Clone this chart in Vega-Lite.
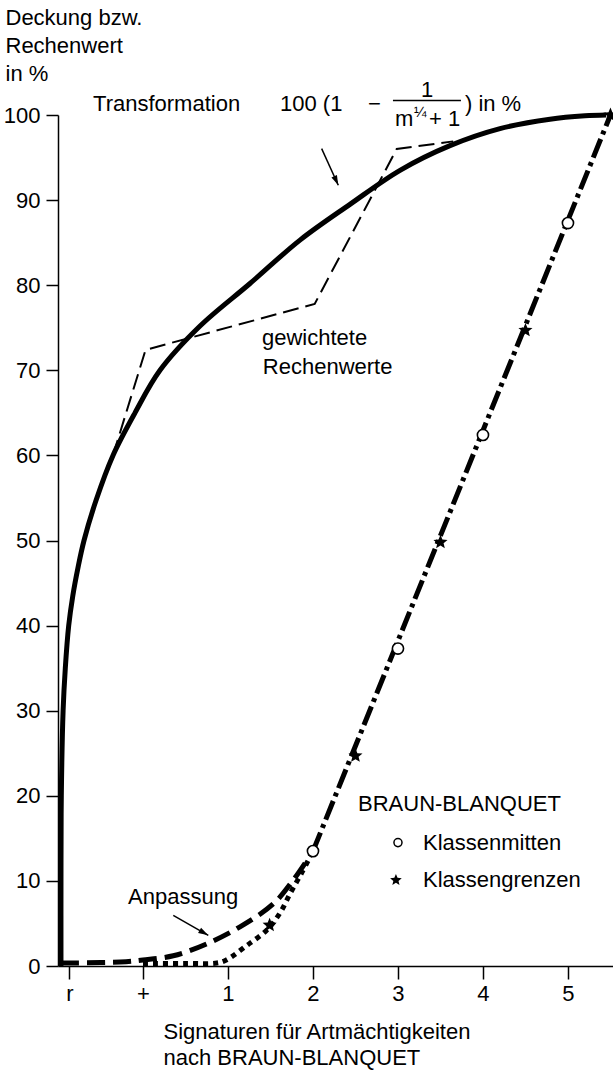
{
  "$schema": "https://vega.github.io/schema/vega-lite/v6.json",
  "width": 555,
  "height": 851,
  "autosize": {"type": "none"},
  "padding": {"left": 58, "top": 115, "right": 0, "bottom": 109},
  "background": "white",
  "config": {
    "view": {"stroke": null},
    "font": "Liberation Sans",
    "axis": {
      "grid": false,
      "domainColor": "black",
      "domainWidth": 1.5,
      "tickColor": "black",
      "tickWidth": 1.5,
      "labelColor": "black",
      "labelFont": "Liberation Sans",
      "labelFontSize": 22,
      "titleFont": "Liberation Sans",
      "titleFontSize": 22,
      "titleFontWeight": "normal",
      "titleColor": "black"
    }
  },
  "datasets": {
    "transform": [
      {"u": -0.965, "v": 0}, {"u": -0.965, "v": 10}, {"u": -0.961, "v": 20}, {"u": -0.94, "v": 30},
      {"u": -0.914, "v": 35}, {"u": -0.874, "v": 40}, {"u": -0.826, "v": 43.5}, {"u": -0.765, "v": 46.8},
      {"u": -0.694, "v": 50}, {"u": -0.553, "v": 54.7}, {"u": -0.353, "v": 60}, {"u": -0.094, "v": 65},
      {"u": 0.2, "v": 70}, {"u": 0.671, "v": 75.2}, {"u": 1.259, "v": 80.2}, {"u": 1.847, "v": 85.3},
      {"u": 2.435, "v": 89.5}, {"u": 3.024, "v": 93.5}, {"u": 3.612, "v": 96.4}, {"u": 4.2, "v": 98.4},
      {"u": 4.788, "v": 99.5}, {"u": 5.2, "v": 99.9}, {"u": 5.45, "v": 100}
    ],
    "weighted": [
      {"u": -0.353, "v": 60}, {"u": 0.03, "v": 72.4}, {"u": 2.02, "v": 77.8}, {"u": 2.985, "v": 96.0}, {"u": 3.65, "v": 96.9}
    ],
    "anpassung": [
      {"u": -0.965, "v": 0.35}, {"u": -0.5, "v": 0.4}, {"u": -0.2, "v": 0.5}, {"u": 0.0, "v": 0.7},
      {"u": 0.356, "v": 1.2}, {"u": 0.749, "v": 2.6}, {"u": 1.141, "v": 4.6}, {"u": 1.533, "v": 7.3},
      {"u": 1.768, "v": 10.1}, {"u": 2.0, "v": 13.5}
    ],
    "dotted": [
      {"u": 0.0, "v": 0.3}, {"u": 0.5, "v": 0.3}, {"u": 0.87, "v": 0.35}, {"u": 0.98, "v": 0.7},
      {"u": 1.22, "v": 2.4}, {"u": 1.455, "v": 4.2}, {"u": 1.61, "v": 6.2}, {"u": 1.73, "v": 8.5},
      {"u": 1.87, "v": 11.0}, {"u": 2.0, "v": 13.5}
    ],
    "bb": [{"u": 2.0, "v": 13.5}, {"u": 5.5, "v": 100}],
    "mitten": [{"u": 2, "v": 13.5}, {"u": 3, "v": 37.3}, {"u": 4, "v": 62.4}, {"u": 5, "v": 87.3}],
    "grenzen": [{"u": 1.49, "v": 4.8}, {"u": 2.5, "v": 24.7}, {"u": 3.5, "v": 49.8}, {"u": 4.5, "v": 74.7}, {"u": 5.5, "v": 100}],
    "legendCircle": [{"u": 3.0, "v": 14.5}],
    "legendStar": [{"u": 2.976, "v": 10.1}],
    "labels": [
      {"text": "Transformation", "u": -0.588, "v": 101.26},
      {"text": "100 (1", "u": 1.612, "v": 101.26},
      {"text": "−", "u": 2.647, "v": 101.26},
      {"text": "1", "u": 3.271, "v": 102.9},
      {"text": "m", "u": 2.965, "v": 99.5},
      {"text": "+ 1", "u": 3.365, "v": 99.5},
      {"text": ") in %", "u": 3.788, "v": 101.26},
      {"text": "gewichtete", "u": 1.4, "v": 73.8},
      {"text": "Rechenwerte", "u": 1.41, "v": 70.4},
      {"text": "BRAUN-BLANQUET", "u": 2.53, "v": 19.0},
      {"text": "Klassenmitten", "u": 3.294, "v": 14.5},
      {"text": "Klassengrenzen", "u": 3.294, "v": 10.1},
      {"text": "Anpassung", "u": -0.176, "v": 8.07}
    ],
    "sup": [{"text": "¼", "u": 3.188, "v": 100.3}],
    "bar": [{"u": 2.941, "u2": 3.741, "v": 101.7}],
    "arrow1": [{"u": 2.102, "v": 96.05, "u2": 2.298, "v2": 91.74}],
    "arrow2": [{"u": 0.356, "v": 5.96, "u2": 0.768, "v2": 3.61}]
  },
  "encoding": {
    "x": {
      "field": "u", "type": "quantitative",
      "scale": {"domain": [-1, 5.53], "nice": false, "zero": false},
      "axis": {
        "values": [-0.867, 0, 1, 2, 3, 4, 5],
        "labelExpr": "datum.value < -0.5 ? 'r' : (datum.value < 0.5 ? '+' : format(datum.value, 'd'))",
        "tickSize": 13,
        "labelPadding": 4,
        "title": ["Signaturen für Artmächtigkeiten", "nach BRAUN-BLANQUET"],
        "titleAlign": "left",
        "titleBaseline": "top",
        "titleAnchor": "start",
        "titleX": 105,
        "titleY": 55,
        "titleLineHeight": 26
      }
    },
    "y": {
      "field": "v", "type": "quantitative",
      "scale": {"domain": [0, 100], "nice": false, "zero": false},
      "axis": {
        "values": [0, 10, 20, 30, 40, 50, 60, 70, 80, 90, 100],
        "tickSize": 12,
        "labelPadding": 6,
        "title": ["Deckung bzw.", "Rechenwert", "in %"],
        "titleAngle": 0,
        "titleAlign": "left",
        "titleBaseline": "top",
        "titleX": -53,
        "titleY": -108,
        "titleLineHeight": 28
      }
    }
  },
  "layer": [
    {
      "data": {"name": "weighted"},
      "mark": {"type": "line", "color": "black", "strokeWidth": 2, "strokeDash": [16, 7]},
      "encoding": {"order": {"value": null}}
    },
    {
      "data": {"name": "transform"},
      "mark": {"type": "line", "color": "black", "strokeWidth": 5, "interpolate": "catmull-rom"},
      "encoding": {"order": {"value": null}}
    },
    {
      "data": {"name": "anpassung"},
      "mark": {"type": "line", "color": "black", "strokeWidth": 5, "strokeDash": [18, 8], "interpolate": "catmull-rom"},
      "encoding": {"order": {"value": null}}
    },
    {
      "data": {"name": "dotted"},
      "mark": {"type": "line", "color": "black", "strokeWidth": 5, "strokeDash": [5, 5], "interpolate": "catmull-rom"},
      "encoding": {"order": {"value": null}}
    },
    {
      "data": {"name": "bb"},
      "mark": {"type": "line", "color": "black", "strokeWidth": 5, "strokeDash": [20, 5, 4, 5]},
      "encoding": {"order": {"value": null}}
    },
    {
      "data": {"name": "mitten"},
      "mark": {"type": "point", "shape": "circle", "filled": true, "fill": "white", "stroke": "black", "strokeWidth": 1.6, "size": 125, "opacity": 1}
    },
    {
      "data": {"name": "grenzen"},
      "mark": {"type": "point", "shape": "M0,-1L0.26,-0.36L0.951,-0.309L0.42,0.137L0.588,0.809L0,0.45L-0.588,0.809L-0.42,0.137L-0.951,-0.309L-0.26,-0.36Z", "filled": true, "color": "black", "size": 220, "opacity": 1}
    },
    {
      "data": {"name": "legendCircle"},
      "mark": {"type": "point", "shape": "circle", "filled": true, "fill": "white", "stroke": "black", "strokeWidth": 1.5, "size": 65, "opacity": 1}
    },
    {
      "data": {"name": "legendStar"},
      "mark": {"type": "point", "shape": "M0,-1L0.26,-0.36L0.951,-0.309L0.42,0.137L0.588,0.809L0,0.45L-0.588,0.809L-0.42,0.137L-0.951,-0.309L-0.26,-0.36Z", "filled": true, "color": "black", "size": 150, "opacity": 1}
    },
    {
      "data": {"name": "labels"},
      "mark": {"type": "text", "align": "left", "baseline": "middle", "font": "Liberation Sans", "fontSize": 22, "color": "black"},
      "encoding": {"text": {"field": "text"}}
    },
    {
      "data": {"name": "sup"},
      "mark": {"type": "text", "align": "left", "baseline": "middle", "font": "Liberation Sans", "fontSize": 15, "color": "black"},
      "encoding": {"text": {"field": "text"}}
    },
    {
      "data": {"name": "bar"},
      "mark": {"type": "rule", "color": "black", "strokeWidth": 1.5},
      "encoding": {"x2": {"field": "u2"}}
    },
    {
      "data": {"name": "arrow1"},
      "mark": {"type": "rule", "color": "black", "strokeWidth": 1.5},
      "encoding": {"x2": {"field": "u2"}, "y2": {"field": "v2"}}
    },
    {
      "data": {"name": "arrow1"},
      "mark": {"type": "point", "shape": "M0,0L1.2,4L-1.2,4Z", "filled": true, "color": "black", "size": 25, "angle": 155.7, "opacity": 1},
      "encoding": {"x": {"field": "u2", "type": "quantitative"}, "y": {"field": "v2", "type": "quantitative"}}
    },
    {
      "data": {"name": "arrow2"},
      "mark": {"type": "rule", "color": "black", "strokeWidth": 1.5},
      "encoding": {"x2": {"field": "u2"}, "y2": {"field": "v2"}}
    },
    {
      "data": {"name": "arrow2"},
      "mark": {"type": "point", "shape": "M0,0L1.2,4L-1.2,4Z", "filled": true, "color": "black", "size": 25, "angle": 119.7, "opacity": 1},
      "encoding": {"x": {"field": "u2", "type": "quantitative"}, "y": {"field": "v2", "type": "quantitative"}}
    }
  ]
}
